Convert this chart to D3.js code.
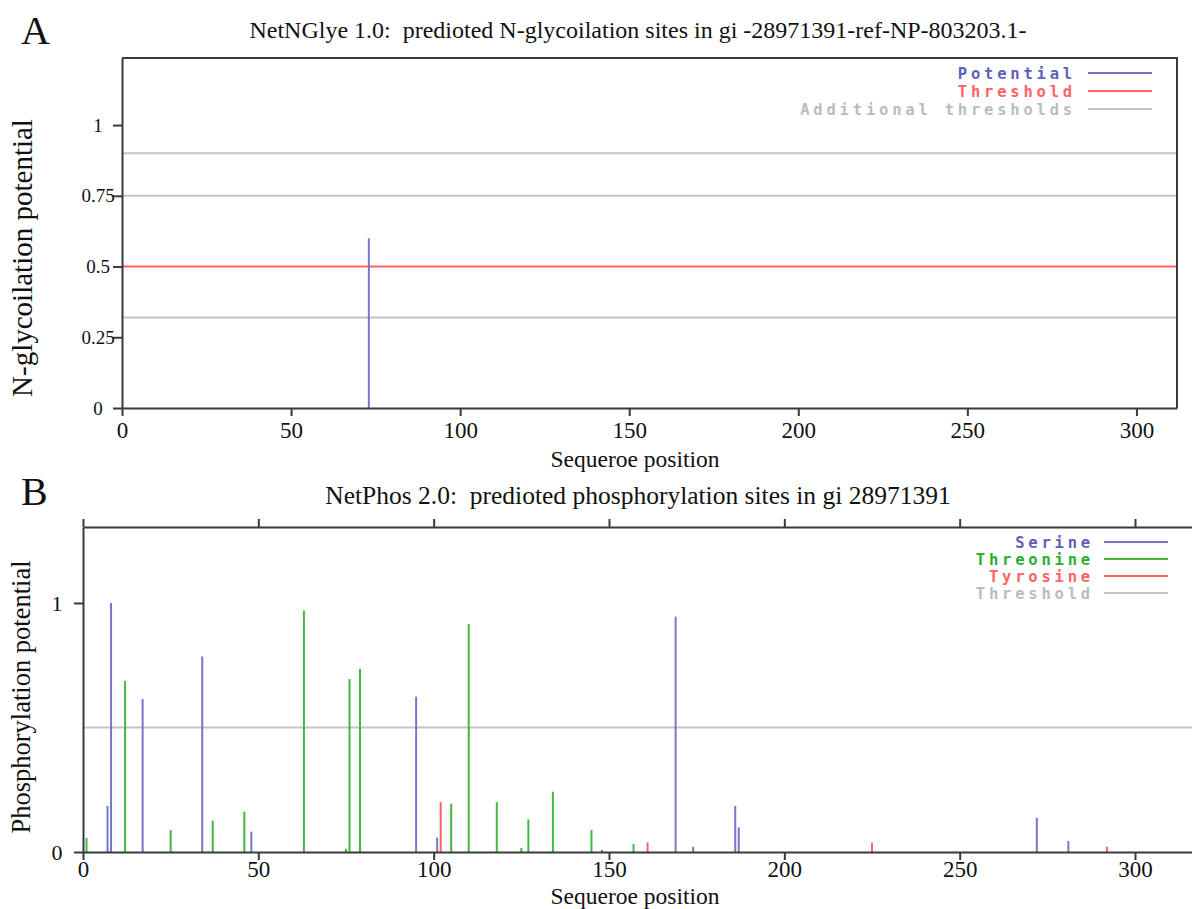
<!DOCTYPE html>
<html>
<head>
<meta charset="utf-8">
<script src="https://cdnjs.cloudflare.com/ajax/libs/d3/7.8.5/d3.min.js"></script>
<style>
body { margin: 0; background: #fff; }
svg { display: block; }
.serif { font-family: "Liberation Serif", serif; fill: #111; }
.legend { font-family: "DejaVu Sans Mono", monospace; font-size: 15.5px; font-weight: bold; letter-spacing: 3.8px; }
</style>
</head>
<body>
<svg id="chart" width="1192" height="909"></svg>
<script>
// x ticks shared by both panels
var xTicks = [0, 50, 100, 150, 200, 250, 300];

// panel A : NetNGlyc
var glycPositions = [73];
var glycPotential = [0.60];
var glycThreshold = [0.5];
var glycExtraThresholds = [0.32, 0.75, 0.90];
var glycYTicks = [0, 0.25, 0.5, 0.75, 1];

// panel B : NetPhos
var serinePositions = [7, 8, 17, 34, 48, 95, 101, 148, 169, 174, 186, 187, 272, 281];
var serineValues = [0.185, 1.0, 0.614, 0.785, 0.082, 0.624, 0.058, 0.008, 0.945, 0.021, 0.185, 0.099, 0.137, 0.044];
var threoninePositions = [1, 12, 25, 37, 46, 63, 75, 76, 79, 105, 110, 118, 125, 127, 134, 145, 157];
var threonineValues = [0.056, 0.687, 0.088, 0.126, 0.162, 0.969, 0.013, 0.694, 0.735, 0.194, 0.915, 0.2, 0.016, 0.131, 0.242, 0.088, 0.032];
var tyrosinePositions = [102, 161, 225, 292];
var tyrosineValues = [0.2, 0.039, 0.037, 0.021];
var phosThreshold = [0.5];
var phosYTicks = [0, 1];

var BLUE = "#7676c8", GREEN = "#3fba3f", RED = "#ff6363", GRAY = "#c4c4c4", AXIS = "#3a3a3a";

var svg = d3.select("#chart");

var zip = function (xs, ys) {
    return xs.map(function (d, i) { return { pos: d, val: ys[i] }; });
};

var drawPanel = function (cfg) {
    var x = d3.scaleLinear().domain([0, cfg.xMax]).range([cfg.left, cfg.right]);
    var y = d3.scaleLinear().domain([0, cfg.yMax]).range([cfg.bottom, cfg.top]);
    var g = svg.append("g");

    // threshold lines
    cfg.lines.forEach(function (l) {
        g.selectAll(null)
            .data(l.values).enter()
            .append("line")
            .attr("x1", cfg.left).attr("x2", cfg.lineEnd)
            .attr("y1", function (d) { return y(d); })
            .attr("y2", function (d) { return y(d); })
            .style("stroke", l.color)
            .style("stroke-width", 2);
    });

    // sticks
    cfg.series.forEach(function (s) {
        g.selectAll(null)
            .data(s.data).enter()
            .append("line")
            .attr("x1", function (d) { return x(d.pos); })
            .attr("x2", function (d) { return x(d.pos); })
            .attr("y1", y(0))
            .attr("y2", function (d) { return y(d.val); })
            .style("stroke", s.color)
            .style("stroke-width", 2);
    });

    // axes
    var xAxis = g.append("g")
        .attr("transform", "translate(0," + cfg.bottom + ")")
        .call(d3.axisBottom(x).tickValues(xTicks).tickSize(8).tickSizeOuter(0).tickPadding(cfg.xPad));
    xAxis.selectAll(".tick text").style("font-size", "23px");
    var yAxis = g.append("g")
        .attr("transform", "translate(" + cfg.left + ",0)")
        .call(d3.axisLeft(y).tickValues(cfg.yTicks).tickSize(9).tickSizeOuter(0)
            .tickFormat(function (d) { return String(d); }));
    yAxis.selectAll(".tick text")
        .attr("x", -cfg.yLabelOffset)
        .attr("text-anchor", "middle")
        .style("font-size", cfg.yTickFont);

    if (cfg.topTicks) {
        g.append("g")
            .attr("transform", "translate(0," + cfg.top + ")")
            .call(d3.axisTop(x).tickValues(xTicks).tickSize(8).tickSizeOuter(0).tickFormat(""));
    } else {
        g.append("path")
            .attr("d", "M" + cfg.left + "," + cfg.top + "H" + cfg.right + "V" + cfg.bottom)
            .style("fill", "none");
    }

    g.selectAll(".domain, .tick line, path")
        .style("stroke", AXIS)
        .style("stroke-width", 2);
    g.selectAll(".tick text")
        .style("font-family", "'Liberation Serif', serif")
        .style("fill", "#111");

    // panel letter, title, axis labels
    svg.append("text").attr("class", "serif")
        .attr("x", 21).attr("y", cfg.letterY)
        .style("font-size", "40px")
        .text(cfg.letter);
    svg.append("text").attr("class", "serif")
        .attr("x", 638).attr("y", cfg.titleY)
        .attr("text-anchor", "middle")
        .style("font-size", cfg.titleFont)
        .style("white-space", "pre")
        .text(cfg.title);
    svg.append("text").attr("class", "serif")
        .attr("x", 635).attr("y", cfg.xLabelY)
        .attr("text-anchor", "middle")
        .style("font-size", "23.5px")
        .text("Sequeroe position");
    svg.append("text").attr("class", "serif")
        .attr("transform", "translate(" + cfg.yLabelX + "," + cfg.yLabelY + ") rotate(-90)")
        .attr("text-anchor", "middle")
        .style("font-size", cfg.yLabelFont)
        .text(cfg.yLabel);

    // legend
    var lg = svg.append("g").attr("class", "legend");
    cfg.legend.forEach(function (item, i) {
        var ly = cfg.legendY + i * cfg.legendStep;
        lg.append("text")
            .attr("x", cfg.legendTextX).attr("y", ly)
            .attr("dy", "0.36em")
            .attr("text-anchor", "end")
            .style("fill", item.textColor || item.color)
            .text(item.name);
        lg.append("line")
            .attr("x1", cfg.legendLine[0]).attr("x2", cfg.legendLine[1])
            .attr("y1", ly).attr("y2", ly)
            .style("stroke", item.color)
            .style("stroke-width", 2);
    });
};

drawPanel({
    letter: "A", letterY: 44,
    title: "NetNGlye 1.0:  predioted N-glycoilation sites in gi -28971391-ref-NP-803203.1-", titleY: 38, titleFont: "24px",
    yLabel: "N-glycoilation potential", yLabelX: 32, yLabelY: 258, yLabelFont: "29px", xLabelY: 467,
    left: 122, right: 1177, top: 58, bottom: 408, lineEnd: 1177,
    xMax: 312, yMax: 1.237, xPad: 6, yLabelOffset: 24, yTickFont: "19px",
    yTicks: glycYTicks, topTicks: false,
    lines: [
        { values: glycExtraThresholds, color: GRAY },
        { values: glycThreshold, color: RED }
    ],
    series: [{ data: zip(glycPositions, glycPotential), color: BLUE }],
    legend: [
        { name: "Potential", color: BLUE, textColor: "#6060b8" },
        { name: "Threshold", color: RED },
        { name: "Additional thresholds", color: GRAY, textColor: "#bcbcbc" }
    ],
    legendY: 73, legendStep: 18, legendTextX: 1076, legendLine: [1088, 1152]
});

drawPanel({
    letter: "B", letterY: 505,
    title: "NetPhos 2.0:  predioted phosphorylation sites in gi 28971391", titleY: 504, titleFont: "25.5px",
    yLabel: "Phosphorylation potential", yLabelX: 30, yLabelY: 697, yLabelFont: "26.5px", xLabelY: 903.5,
    left: 83, right: 1135 + (1135 - 83) / 300 * 20, top: 527, bottom: 852, lineEnd: 1192,
    xMax: 320, yMax: 1.305, xPad: 1, yLabelOffset: 26, yTickFont: "22px",
    yTicks: phosYTicks, topTicks: true,
    lines: [{ values: phosThreshold, color: GRAY }],
    series: [
        { data: zip(serinePositions, serineValues), color: BLUE },
        { data: zip(threoninePositions, threonineValues), color: GREEN },
        { data: zip(tyrosinePositions, tyrosineValues), color: RED }
    ],
    legend: [
        { name: "Serine", color: BLUE, textColor: "#6060b8" },
        { name: "Threonine", color: GREEN, textColor: "#2eae2e" },
        { name: "Tyrosine", color: RED },
        { name: "Threshold", color: GRAY, textColor: "#bcbcbc" }
    ],
    legendY: 542, legendStep: 17, legendTextX: 1094, legendLine: [1104, 1168]
});
</script>
</body>
</html>
